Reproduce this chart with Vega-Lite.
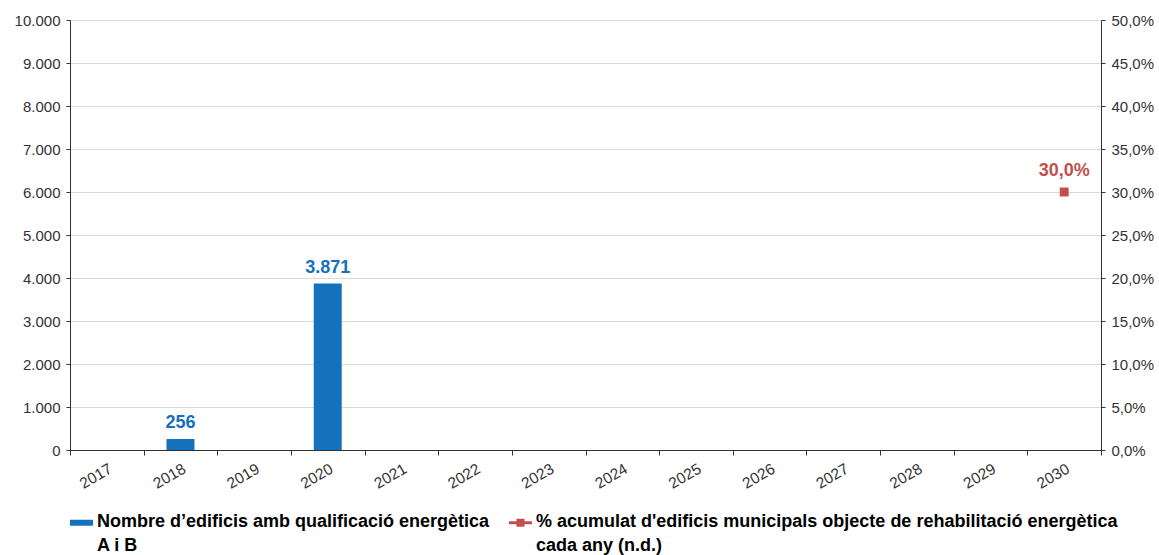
{
  "$schema": "https://vega.github.io/schema/vega-lite/v6.json",
  "width": 1031,
  "height": 430,
  "autosize": "none",
  "padding": {"left": 70, "top": 20, "right": 58, "bottom": 105},
  "config": {
    "locale": {"number": {"decimal": ",", "thousands": ".", "grouping": [3], "currency": ["", " €"]}},
    "font": "Liberation Sans",
    "view": {"stroke": null},
    "axis": {"labelFont": "Liberation Sans", "labelFontSize": 15, "labelColor": "#333333", "domainColor": "#333333", "tickColor": "#333333", "gridColor": "#d9d9d9", "title": null}
  },
  "data": {
    "values": [
      {"year": "2018", "serie": "A", "value": 256},
      {"year": "2020", "serie": "A", "value": 3871},
      {"year": "2030", "serie": "B", "value": 0.3}
    ]
  },
  "encoding": {
    "x": {
      "field": "year",
      "type": "ordinal",
      "scale": {"domain": ["2017","2018","2019","2020","2021","2022","2023","2024","2025","2026","2027","2028","2029","2030"], "paddingInner": 0, "paddingOuter": 0},
      "axis": {"tickBand": "extent", "tickSize": 5, "labelAngle": -30, "labelAlign": "right", "labelBaseline": "top", "labelPadding": 6, "labelFontSize": 15.5, "grid": false}
    }
  },
  "layer": [
    {
      "transform": [{"filter": "datum.serie == 'A'"}],
      "encoding": {
        "y": {
          "field": "value",
          "type": "quantitative",
          "scale": {"domain": [0, 10000], "nice": false},
          "axis": {"values": [0,1000,2000,3000,4000,5000,6000,7000,8000,9000,10000], "format": ",.0f", "grid": true, "tickSize": 4, "labelPadding": 6}
        }
      },
      "layer": [
        {
          "mark": {"type": "bar", "width": {"band": 0.38}},
          "encoding": {
            "color": {
              "field": "serie",
              "type": "nominal",
              "scale": {"domain": ["A", "B"], "range": ["#1372bb", "#c0504d"]},
              "legend": {
                "orient": "bottom",
                "direction": "horizontal",
                "title": null,
                "offset": 19,
                "labelFont": "Liberation Sans",
                "labelFontSize": 18,
                "labelFontWeight": "bold",
                "labelColor": "#000000",
                "labelLimit": 800,
                "labelBaseline": "top",
                "symbolSize": 529,
                "symbolStrokeWidth": 0,
                "columnPadding": 19,
                "labelOffset": 4,
                "labelExpr": "datum.value == 'A' ? ['Nombre d’edificis amb qualificació energètica', 'A i B'] : [\"% acumulat d'edificis municipals objecte de rehabilitació energètica\", 'cada any (n.d.)']",
                "encode": {
                  "labels": {"update": {"dy": {"value": -10}, "lineHeight": {"value": 24}}},
                  "symbols": {"update": {"shape": {"signal": "datum.value == 'A' ? 'M-1,-0.26H1V0.26H-1Z' : 'M-1,-0.13H1V0.13H-1Z M-0.35,-0.35H0.35V0.35H-0.35Z'"}}}
                }
              }
            }
          }
        },
        {
          "mark": {"type": "text", "baseline": "bottom", "dy": -7, "fontSize": 18, "fontWeight": "bold", "color": "#1372bb", "font": "Liberation Sans"},
          "encoding": {"text": {"field": "value", "type": "quantitative", "format": ",.0f"}}
        }
      ]
    },
    {
      "transform": [{"filter": "datum.serie == 'B'"}],
      "encoding": {
        "y": {
          "field": "value",
          "type": "quantitative",
          "scale": {"domain": [0, 0.5], "nice": false},
          "axis": {"orient": "right", "values": [0,0.05,0.1,0.15,0.2,0.25,0.3,0.35,0.4,0.45,0.5], "format": ".1%", "grid": false, "tickSize": 4, "labelPadding": 6}
        }
      },
      "layer": [
        {
          "mark": {"type": "point", "filled": true, "size": 80, "opacity": 1},
          "encoding": {
            "color": {"field": "serie", "type": "nominal"},
            "shape": {"value": "square"}
          }
        },
        {
          "mark": {"type": "text", "baseline": "bottom", "dy": -12, "fontSize": 18, "fontWeight": "bold", "color": "#c0504d", "font": "Liberation Sans"},
          "encoding": {"text": {"field": "value", "type": "quantitative", "format": ".1%"}}
        }
      ]
    }
  ],
  "resolve": {"scale": {"y": "independent"}}
}
